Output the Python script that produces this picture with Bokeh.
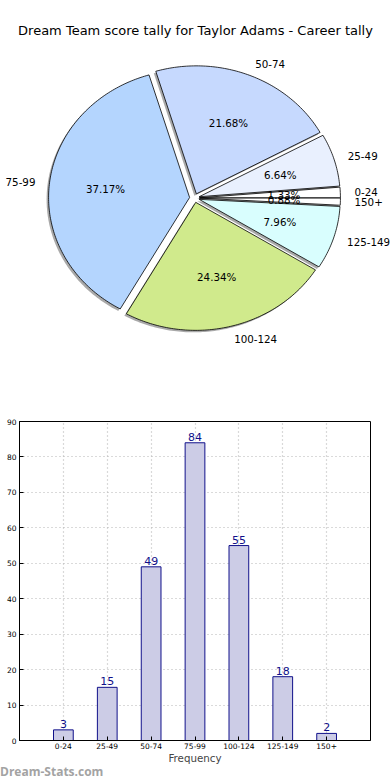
import numpy as np
from bokeh.plotting import figure
from bokeh.models import Range1d, FixedTicker, ColumnDataSource, Div
from bokeh.core.properties import value
from bokeh.embed import file_html
from bokeh.resources import INLINE

# ---------------- data ----------------
title_text = "Dream Team score tally for Taylor Adams - Career tally"
categories = ["0-24", "25-49", "50-74", "75-99", "100-124", "125-149", "150+"]
counts = [3, 15, 49, 84, 55, 18, 2]
pie_colors = ["#ffffff", "#e9f0fe", "#c6d9fe", "#b4d5fe", "#d0ea8c", "#d9fefe", "#ffffff"]
y_ticks = [0, 10, 20, 30, 40, 50, 60, 70, 80, 90]
x_label = "Frequency"
watermark = "Dream-Stats.com"

FONT = value("DejaVu Sans")

# ---------------- pie figure ----------------
W = 390
pie = figure(width=W, height=400, x_range=Range1d(0, 390), y_range=Range1d(400, 0),
             output_backend="svg", toolbar_location=None, min_border=0)
pie.axis.visible = False
pie.grid.visible = False
pie.outline_line_color = None

cx, cy, rx, ry, ex = 194.0, 197.5, 141.0, 128.0, 0.035
vals = np.array(counts, dtype=float)
total = vals.sum()
edges = np.concatenate([[0.0], np.cumsum(vals / total)]) * 2 * np.pi

xs, ys, sxs, sys_ = [], [], [], []
lab_x, lab_y, lab_align = [], [], []
pct_x, pct_y, pct_txt = [], [], []
for i in range(len(vals)):
    t0, t1 = edges[i], edges[i + 1]
    mid = 0.5 * (t0 + t1)
    ox = cx + ex * rx * np.cos(mid)
    oy = cy - ex * ry * np.sin(mid)
    ts = np.linspace(t0, t1, max(4, int((t1 - t0) * 60)))
    px = np.concatenate([[ox], ox + rx * np.cos(ts)])
    py = np.concatenate([[oy], oy - ry * np.sin(ts)])
    xs.append(list(px)); ys.append(list(py))
    sxs.append(list(px - 2)); sys_.append(list(py + 2))
    lab_x.append(ox + 1.1 * rx * np.cos(mid))
    lab_y.append(oy - 1.1 * ry * np.sin(mid))
    lab_align.append("left" if np.cos(mid) > 0 else "right")
    pct_x.append(ox + 0.6 * rx * np.cos(mid))
    pct_y.append(oy - 0.6 * ry * np.sin(mid))
    pct_txt.append("%.2f%%" % (vals[i] / total * 100))

pie.patches(sxs, sys_, fill_color="#404040", fill_alpha=0.45, line_color=None)
pie.patches(xs, ys, fill_color=pie_colors, line_color="black", line_width=0.8)

pie.text(lab_x, lab_y, text=categories, text_align=lab_align, text_baseline="middle",
         text_font=FONT, text_font_size="10.3px", text_color="black")
pie.text(pct_x, pct_y, text=pct_txt, text_align="center", text_baseline="middle",
         text_font=FONT, text_font_size="10.3px", text_color="black")
pie.text([195], [30], text=[title_text], text_align="center", text_baseline="middle",
         text_font=FONT, text_font_size="13px", text_color="black")

# ---------------- bar figure ----------------
xpos = list(range(1, len(categories) + 1))
bar = figure(width=W, height=366, x_range=Range1d(0, len(categories) + 1), y_range=Range1d(0, 90),
             output_backend="svg", toolbar_location=None,
             min_border_left=19, min_border_right=20, min_border_top=21, min_border_bottom=26)
bar.outline_line_color = "black"
bar.outline_line_width = 1

src = ColumnDataSource(dict(x=xpos, top=counts, label=[str(c) for c in counts], cat=categories))
bar.vbar(x="x", top="top", width=0.45, source=src, fill_color="#ccccE6", line_color="#10108a", line_width=1)
bar.text(x="x", y="top", text="label", source=src, text_align="center", text_baseline="bottom",
         y_offset=-2, text_font=FONT, text_font_size="11px", text_color="#10108a")

xt = FixedTicker(ticks=xpos)
yt = FixedTicker(ticks=y_ticks)
bar.xaxis.ticker = xt
bar.yaxis.ticker = yt
bar.xaxis.major_label_overrides = {x: c for x, c in zip(xpos, categories)}
for ax in (bar.xaxis[0], bar.yaxis[0]):
    ax.major_tick_in = 4
    ax.major_tick_out = 0
    ax.minor_tick_line_color = None
    ax.axis_line_color = "black"
    ax.major_tick_line_color = "black"
    ax.major_label_text_font = "DejaVu Sans"
    ax.major_label_text_font_size = "7.5px"
    ax.major_label_text_color = "black"
    ax.major_label_standoff = 3
bar.xaxis.major_label_standoff = 2
bar.xaxis.axis_label = x_label
bar.xaxis.axis_label_text_font = "DejaVu Sans"
bar.xaxis.axis_label_text_font_size = "10.3px"
bar.xaxis.axis_label_text_font_style = "normal"
bar.xaxis.axis_label_standoff = 0

bar.xgrid.ticker = xt
bar.ygrid.ticker = yt
for g in (bar.xgrid[0], bar.ygrid[0]):
    g.grid_line_color = "#b4b4b4"
    g.grid_line_dash = "1 3"
    g.grid_line_width = 1.2

wm = Div(text=watermark, width=W, height=14,
         styles={"font-family": "Open Sans", "font-size": "12px", "font-weight": "bold",
                 "color": "#a3a3a3", "line-height": "12px", "margin": "0", "padding": "0"})

open("out.html", "w").write(file_html((pie, bar, wm), INLINE))
